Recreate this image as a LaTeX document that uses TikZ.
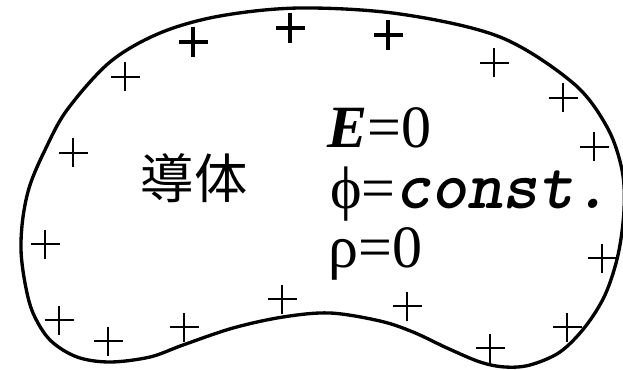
\documentclass[tikz,border=0pt]{standalone}
\usepackage{fontspec}
\setmainfont{Liberation Serif}
\newfontfamily\constfont{lmmonolt10-boldoblique.otf}
\newfontfamily\jpfont{Noto Sans CJK JP}
\usetikzlibrary{positioning}

\tikzset{
    outline/.style={line width=2.5pt, line join=round},
    chargethin/.style={line width=1.5pt},
    chargebold/.style={line width=3.2pt},
    eqtext/.style={anchor=base west, inner sep=0pt, font=\fontsize{45}{54}\selectfont},
    jptext/.style={inner sep=0pt, font=\fontsize{40}{48}\selectfont\jpfont}
}

\begin{document}
\begin{tikzpicture}[x=0.75pt, y=-0.75pt]
    \useasboundingbox (0,0) rectangle (623,370);

    % Conductor outline
    \draw[outline] plot[smooth cycle, tension=0.55] coordinates {
        (300,8) (400,14) (500,37) (573,83) (607,127) (622,170) (624,210)
        (618,255) (605,295) (585,327) (560,352) (530,365) (505,367)
        (480,362) (447,348) (413,332) (380,321) (330,313) (283,317)
        (233,328) (183,345) (150,357) (110,362) (77,357) (50,340)
        (33,313) (25,283) (21,250) (23,217) (30,185) (45,150) (67,110)
        (110,62) (160,33) (220,16)};

    % Surface charges (bold)
    \foreach \x/\y in {193/42, 290/28, 388/35}
        \draw[chargebold] (\x,\y) +(-14.5,0) -- +(14.5,0) +(0,-15) -- +(0,15);

    % Surface charges (thin)
    \foreach \x/\y in {125/77, 73/153, 45/244, 59/320, 108/341, 184/327,
                       282/299, 407/306, 490/348, 567/327, 602/258,
                       594/147, 563/98, 494/63}
        \draw[chargethin] (\x,\y) +(-14.5,0) -- +(14.5,0) +(0,-14.5) -- +(0,14.5);

    % Labels
    \node[jptext] (cond) at (194,178) {導体};
    \node[eqtext] (efield) at (327,148) {{\bfseries\itshape E}=0};
    \node[eqtext] (phi) at (330,208) {ϕ={\constfont\fontsize{51}{54}\selectfont const.}};
    \node[eqtext] (rho) at (328,267) {ρ=0};
\end{tikzpicture}
\end{document}
